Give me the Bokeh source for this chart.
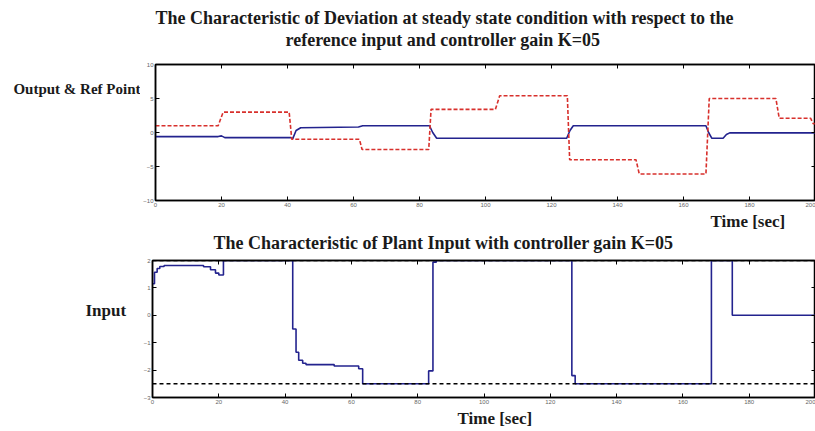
from bokeh.plotting import figure
from bokeh.layouts import column, row
from bokeh.models import Range1d, LinearAxis, Label, FixedTicker, Span, Title
from bokeh.embed import file_html
from bokeh.resources import INLINE

# ---------------- data ----------------
time_ticks = [0, 20, 40, 60, 80, 100, 120, 140, 160, 180, 200]
top_yticks = [-10, -5, 0, 5, 10]
bot_yticks = [-3, -2, -1, 0, 1, 2]

# reference point (red dashed)
ref_t = [0, 19, 20.5, 40.5, 41.3, 61.8, 62.6, 82.8, 83.5, 103, 104.3, 124.8, 125.5, 145.6, 146.6, 166.8, 167.8, 188, 189, 198.5, 199.3, 200]
ref_y = [1, 1, 3, 3, -1, -1, -2.5, -2.5, 3.4, 3.4, 5.4, 5.4, -4, -4, -6.1, -6.1, 5, 5, 2.1, 2.1, 1.3, 1.3]

# output (blue)
out_t = [0, 19, 20, 21, 41, 41.6, 42.6, 44, 61.5, 62.8, 83, 84, 85.2, 124.6, 125.6, 126.6, 166.8, 167.6, 168.6, 172, 173, 174, 200]
out_y = [-0.6, -0.6, -0.5, -0.75, -0.75, -0.9, 0.3, 0.7, 0.8, 1.0, 1.0, 0.0, -0.85, -0.85, 0.3, 1.0, 1.0, 0.0, -0.85, -0.85, -0.3, -0.05, -0.05]

# plant input (blue, stepped)
in_t = [0, 0.6, 1.4, 2.2, 3.5, 15.4, 17.5, 19.0, 20.0, 21.4, 42.3, 43.3, 44.1, 45.3, 46.3, 54.8, 62.2, 63.4, 83.3, 84.6, 85.6, 126.5, 127.5, 168.6, 174.9, 200]
in_y = [1.15, 1.57, 1.71, 1.78, 1.82, 1.77, 1.66, 1.54, 1.47, 2.0, -0.5, -1.35, -1.64, -1.75, -1.8, -1.85, -1.95, -2.5, -2.03, 1.94, 2.0, -2.2, -2.5, 2.0, 0.0, 0.0]

sat_hi = 2.0
sat_lo = -2.5

BLUE = "#23238e"
RED = "#d8302c"
FONT = "Liberation Serif"
TXT = "#1a1a1a"


def style(p, xt, yt):
    p.outline_line_color = "black"
    p.outline_line_width = 1.5
    p.grid.visible = False
    for ax in p.axis:
        ax.major_label_text_font_size = "6px"
        ax.major_label_text_color = "#666666"
        ax.major_tick_in = 4
        ax.major_tick_out = 0
        ax.minor_tick_line_color = None
        ax.axis_line_width = 1.5
        ax.major_tick_line_width = 1
        ax.major_label_standoff = 2
    p.xaxis.ticker = FixedTicker(ticks=xt)
    p.yaxis.ticker = FixedTicker(ticks=yt)
    # mirrored inward ticks on top and right (minor ticks only: no labels)
    for side, ticks in (("above", xt), ("right", yt)):
        ax = LinearAxis(ticker=FixedTicker(ticks=[], minor_ticks=ticks),
                        major_tick_line_color=None, minor_tick_in=4, minor_tick_out=0,
                        minor_tick_line_width=1, major_label_standoff=0,
                        axis_line_width=1.5)
        p.add_layout(ax, side)


def title(p, text, side, offset, pad_bottom=0, size="18px"):
    p.add_layout(Title(text=text, align="left", offset=offset, standoff=0,
                       padding=dict(top=0, right=0, bottom=pad_bottom, left=0),
                       text_font=FONT, text_font_style="bold", text_font_size=size,
                       text_color=TXT), side)


def text_panel(w, h, text, x, y, align, size):
    # frame of this panel is aligned with the neighbouring plot's frame;
    # y is measured upward from that frame's bottom edge
    t = figure(width=w, height=h, output_backend="svg", toolbar_location=None,
               x_axis_type=None, y_axis_type=None, min_border=0,
               x_range=Range1d(0, w), y_range=Range1d(0, h))
    t.outline_line_color = None
    t.grid.visible = False
    t.add_layout(Label(x=x, y=y, x_units="screen", y_units="screen", text=text,
                       text_font=FONT, text_font_style="bold", text_font_size=size,
                       text_align=align, text_baseline="middle", text_color=TXT))
    return t


LW = 140
H1 = 230
H2 = 431 - H1

# ---------------- top figure ----------------
p1 = figure(width=815 - LW, height=H1, output_backend="svg", toolbar_location=None,
            x_range=Range1d(0, 200), y_range=Range1d(-10, 10),
            min_border_left=12, min_border_right=0, min_border_top=64, min_border_bottom=H1 - 64 - 139)
style(p1, time_ticks, top_yticks)
p1.line(out_t, out_y, line_color=BLUE, line_width=1.6)
p1.line(ref_t, ref_y, line_color=RED, line_width=1.6, line_dash="4 2")
title(p1, "reference input and controller gain K=05", "above", 130, 15)
title(p1, "The Characteristic of Deviation at steady state condition with respect to the", "above", 0)
title(p1, "Time [sec]", "below", 555, 0, "17px")

t1 = text_panel(LW, H1, "Output & Ref Point", 140, 203 - 91, "right", "15px")

# ---------------- bottom figure ----------------
p2 = figure(width=815 - LW, height=H2, output_backend="svg", toolbar_location=None,
            x_range=Range1d(0, 200), y_range=Range1d(-3, 2),
            min_border_left=12, min_border_right=0, min_border_top=258 - H1,
            min_border_bottom=H2 - (258 - H1) - 139)
style(p2, time_ticks, bot_yticks)
p2.step(in_t, in_y, mode="after", line_color=BLUE, line_width=1.6)
p2.add_layout(Span(location=sat_lo, dimension="width", line_color="black", line_width=1.5, line_dash="4 3"))
p2.add_layout(Span(location=sat_hi, dimension="width", line_color="black", line_width=1.5, line_dash="4 3"))
title(p2, "The Characteristic of  Plant Input with controller gain K=05", "above", 61, 8)
title(p2, "Time [sec]", "below", 305, 0, "17px")

t2 = text_panel(LW, H2, "Input", 85, 397 - 310, "left", "17px")

layout = column(row(t1, p1, spacing=0), row(t2, p2, spacing=0), spacing=0)
open("out.html", "w").write(file_html(layout, INLINE))
